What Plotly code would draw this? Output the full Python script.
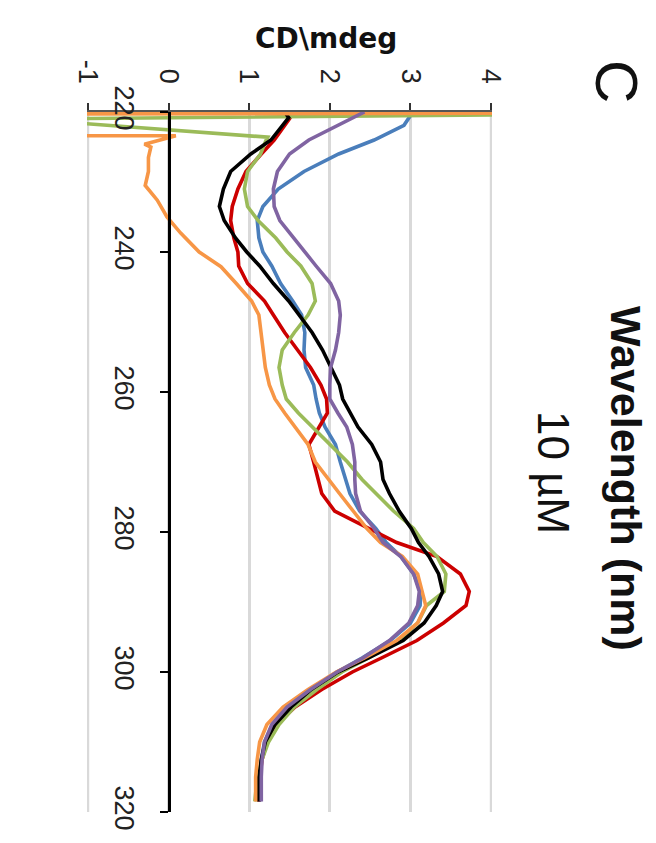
import plotly.graph_objects as go

# ---------------- data ----------------
wl_main = [224, 226, 228.5, 231, 233.5, 235.5, 238, 240, 242, 244.5, 247, 249, 251.5, 254,
           256.5, 259, 261, 263, 265, 267.5, 270, 272.5, 274.5, 277, 279.5, 281.5, 283.5,
           286, 288.5, 290.5, 293, 295.5, 298]
wl_tail = [300, 302.5, 305, 307.5, 310, 312.5, 315, 318.5]

black_head_wl = [220, 220.8]
black_head = [1.44, 1.49]
black_main = [1.27, 1.02, 0.77, 0.68, 0.63, 0.69, 0.83, 0.97, 1.13, 1.30, 1.49, 1.62, 1.78, 1.91,
              2.01, 2.12, 2.16, 2.25, 2.35, 2.52, 2.63, 2.66, 2.74, 2.86, 3.01, 3.10, 3.23,
              3.35, 3.40, 3.32, 3.17, 2.91, 2.48]
black_tail = [2.10, 1.77, 1.52, 1.32, 1.20, 1.15, 1.12, 1.12]

red_head_wl = [220]
red_head = [1.56]
red_main = [1.31, 1.15, 0.96, 0.86, 0.79, 0.77, 0.81, 0.86, 0.87, 0.98, 1.19, 1.30, 1.44, 1.60,
            1.76, 1.89, 1.96, 1.97, 1.87, 1.74, 1.80, 1.86, 1.90, 2.06, 2.49, 2.83, 3.33,
            3.62, 3.73, 3.69, 3.41, 3.08, 2.64]
red_tail = [2.28, 1.90, 1.57, 1.34, 1.22, 1.16, 1.13, 1.12]

blue_head_wl = [220, 221.9]
blue_head = [3.03, 2.92]
blue_main = [2.55, 2.11, 1.68, 1.36, 1.17, 1.10, 1.12, 1.17, 1.28, 1.39, 1.54, 1.65, 1.69, 1.68,
             1.70, 1.80, 1.83, 1.87, 1.94, 2.07, 2.13, 2.20, 2.25, 2.37, 2.57, 2.70, 2.88,
             3.04, 3.13, 3.12, 3.00, 2.75, 2.40]
blue_tail = [2.09, 1.76, 1.48, 1.29, 1.19, 1.15, 1.13, 1.13]

green_head_wl = [220, 221, 223.6]
green_head = [8.0, -1.8, 1.23]
green_main = [1.21, 1.14, 0.98, 0.94, 0.98, 1.11, 1.33, 1.47, 1.64, 1.78, 1.82, 1.73, 1.56, 1.41,
              1.37, 1.41, 1.46, 1.61, 1.78, 2.00, 2.22, 2.40, 2.58, 2.79, 3.04, 3.16, 3.33,
              3.44, 3.42, 3.20, 3.09, 2.86, 2.48]
green_tail = [2.15, 1.84, 1.56, 1.37, 1.24, 1.16, 1.10, 1.07]

purple_head_wl = [220]
purple_head = [2.43]
purple_main = [1.74, 1.50, 1.35, 1.30, 1.31, 1.38, 1.55, 1.68, 1.83, 2.01, 2.11, 2.13, 2.11, 2.07,
               2.01, 2.00, 2.00, 2.10, 2.21, 2.28, 2.31, 2.31, 2.32, 2.38, 2.55, 2.66, 2.88,
               3.04, 3.11, 3.09, 2.98, 2.74, 2.41]
purple_tail = [2.09, 1.76, 1.47, 1.28, 1.19, 1.16, 1.15, 1.15]

orange_wl = [220, 220.5, 223, 223.4, 224.6, 225, 226.5, 228.5, 230.5, 232.6, 235, 237.3, 240,
             242.1, 244.5, 247, 249, 251.5, 254, 256.5, 259, 261, 263, 265, 267.5, 270, 272.5,
             274.5, 277, 279.5, 281.5, 283.5, 286, 288.5, 290.5, 293, 295.5, 298]
orange_main = [12.0, -12.0, -30.0, 0.09, -0.30, -0.22, -0.25, -0.25, -0.29, -0.14, -0.02, 0.15,
               0.38, 0.65, 0.84, 1.03, 1.12, 1.15, 1.18, 1.20, 1.25, 1.32, 1.44, 1.57, 1.73,
               1.82, 1.98, 2.12, 2.29, 2.46, 2.63, 2.90, 3.09, 3.15, 3.19, 3.09, 2.83, 2.43]
orange_tail = [2.08, 1.73, 1.42, 1.22, 1.13, 1.10, 1.08, 1.08]

cd_ticks = [-1, 0, 1, 2, 3, 4]
wl_ticks = [220, 240, 260, 280, 300, 320]

series = [
    ("blue", "#4a7ebb", blue_head_wl + wl_main + wl_tail, blue_head + blue_main + blue_tail),
    ("red", "#cc0000", red_head_wl + wl_main + wl_tail, red_head + red_main + red_tail),
    ("green", "#9bbb59", green_head_wl + wl_main + wl_tail, green_head + green_main + green_tail),
    ("black", "#000000", black_head_wl + wl_main + wl_tail, black_head + black_main + black_tail),
    ("orange", "#f79646", orange_wl + wl_tail, orange_main + orange_tail),
    ("purple", "#8064a2", purple_head_wl + wl_main + wl_tail, purple_head + purple_main + purple_tail),
]

# ---------------- figure ----------------
W, H = 656, 843
L, R, T, B = 87, 492, 112, 812
XR = [-1.012, 4.012]

fig = go.Figure()
for name, color, wl, cd in series:
    fig.add_trace(go.Scatter(x=cd, y=wl, mode="lines", name=name,
                             line=dict(color=color, width=3.6), showlegend=False))

FONT = "Liberation Sans, Arial, sans-serif"

def px_to_paper(px, py):
    return (px - L) / (R - L), (B - py) / (B - T)

fig.update_layout(
    width=W, height=H,
    margin=dict(l=L, r=W - R, t=T, b=H - B, pad=0),
    paper_bgcolor="white", plot_bgcolor="white",
    font=dict(family=FONT, color="#222222"),
    xaxis=dict(
        range=XR, side="top", tickvals=cd_ticks, ticktext=[str(v) for v in cd_ticks],
        tickangle=90, ticks="outside", ticklen=7, tickwidth=1.5, tickcolor="#333333",
        ticklabelstandoff=10,
        showline=True, linecolor="#555555", linewidth=1.5,
        showgrid=True, gridcolor="#d9d9d9", gridwidth=2.5, zeroline=False,
        tickfont=dict(size=27, family=FONT, color="#222222"),
    ),
    yaxis=dict(
        range=[320, 220], anchor="free", position=(0 - XR[0]) / (XR[1] - XR[0]),
        tickvals=wl_ticks, ticktext=[str(v) for v in wl_ticks],
        tickangle=90, ticks="outside", ticklen=8, tickwidth=2, tickcolor="#000000",
        ticklabelstandoff=12,
        showline=True, linecolor="#000000", linewidth=2.5,
        showgrid=False, zeroline=False,
        tickfont=dict(size=27, family=FONT, color="#222222"),
    ),
)

# edge gridlines (at the first and last value-axis ticks)
for v in (cd_ticks[0], cd_ticks[-1]):
    fig.add_shape(type="line", xref="x", yref="paper", x0=v, x1=v, y0=0, y1=1,
                  line=dict(color="#d9d9d9", width=2.5), layer="below")

ann = []
x, y = px_to_paper(326, 38)
ann.append(dict(text="<b>CD\\mdeg</b>", x=x, y=y, xref="paper", yref="paper", showarrow=False,
                xanchor="center", yanchor="middle",
                font=dict(size=28, family="DejaVu Sans, sans-serif", color="#111111")))
x, y = px_to_paper(617, 81)
ann.append(dict(text="C", x=x, y=y, xref="paper", yref="paper", showarrow=False, textangle=90,
                xanchor="center", yanchor="middle",
                font=dict(size=60, family=FONT, color="#111111")))
x, y = px_to_paper(553, 472)
ann.append(dict(text="10 µM", x=x, y=y, xref="paper", yref="paper", showarrow=False, textangle=90,
                xanchor="center", yanchor="middle",
                font=dict(size=44, family=FONT, color="#111111")))
x, y = px_to_paper(626, 478)
ann.append(dict(text="<b>Wavelength (nm)</b>", x=x, y=y, xref="paper", yref="paper",
                showarrow=False, textangle=90, xanchor="center", yanchor="middle",
                font=dict(size=43, family=FONT, color="#111111")))
fig.update_layout(annotations=ann)

fig.write_html("out.html")
